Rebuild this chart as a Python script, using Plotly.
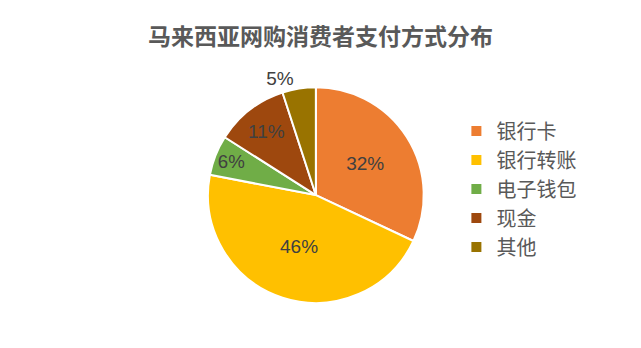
import plotly.graph_objects as go

labels = ["银行卡", "银行转账", "电子钱包", "现金", "其他"]
values = [32, 46, 6, 11, 5]
colors = ["#ED7D31", "#FFC000", "#70AD47", "#9E480E", "#997300"]
text_pos = ["inside", "inside", "inside", "inside", "outside"]

fig = go.Figure(go.Pie(
    labels=labels,
    values=values,
    sort=False,
    direction="clockwise",
    rotation=0,
    marker=dict(colors=colors, line=dict(color="white", width=2)),
    textinfo="percent",
    texttemplate="%{percent:.0%}",
    textposition=text_pos,
    insidetextorientation="horizontal",
    textfont=dict(family="Liberation Sans, Arial, sans-serif", size=19, color="#404040"),
    domain=dict(x=[0.3245, 0.661], y=[0.129, 0.75]),
    hole=0,
))

fig.update_layout(
    width=641, height=348,
    margin=dict(l=0, r=0, t=0, b=0),
    paper_bgcolor="white",
    plot_bgcolor="white",
    title=dict(
        text="<b>马来西亚网购消费者支付方式分布</b>",
        x=0.5, xanchor="center", y=1 - 37/348, yanchor="middle",
        font=dict(family="Noto Sans CJK SC, sans-serif", size=23, color="#595959"),
    ),
    legend=dict(
        x=0.712, xanchor="left", y=1 - 189/348, yanchor="middle",
        font=dict(family="Noto Sans CJK SC, sans-serif", size=20, color="#595959"),
        bgcolor="rgba(0,0,0,0)",
    ),
    showlegend=True,
)

fig.write_html("out.html")
